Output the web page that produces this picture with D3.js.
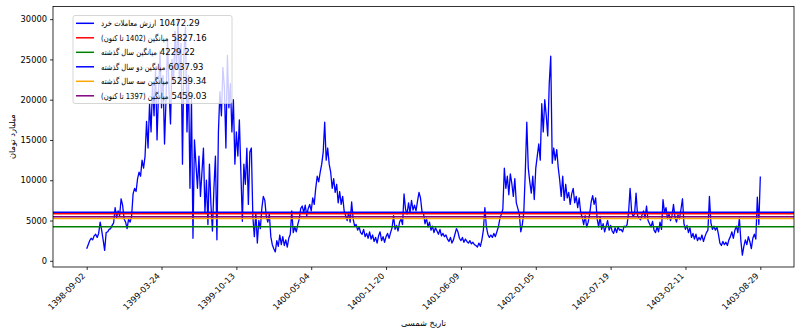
<!DOCTYPE html>
<html><head><meta charset="utf-8">
<script src="https://cdn.jsdelivr.net/npm/d3@7"></script>
<style>body{margin:0;background:#fff}svg{display:block}text{font-family:"DejaVu Sans",sans-serif}</style>
</head><body>
<svg id="c" width="800" height="334"></svg>
<script>
const tickLabels = ["1398-09-02","1399-03-24","1399-10-13","1400-05-04","1400-11-20","1401-06-09","1402-01-05","1402-07-19","1403-02-11","1403-08-29"];
const tickIndex = [0,50,100,150,200,250,300,350,400,450];
const yTicks = [0,5000,10000,15000,20000,25000,30000];
const values = [
1500,2000,2500,2800,2600,3100,3300,2900,3400,4800,
3800,2600,1300,3500,3600,3900,4000,4400,4700,6600,
5400,6200,5600,7700,6900,5200,4800,4000,5200,4800,
5500,8300,9000,8600,10200,11000,10500,12500,11500,13000,
17300,14000,19500,16000,22000,18000,24000,15000,21000,26000,
19000,23000,14500,20000,27500,21000,17000,25000,22000,28500,
24000,30100,22000,27000,12000,26000,29000,16000,23000,9000,
20000,2800,15000,12000,9000,13000,8000,11000,14000,6000,
10000,4500,12000,7000,3700,9000,13000,2600,16000,21000,
18000,24000,21500,14000,25500,19000,22000,16000,20000,12000,
16000,13000,17500,11000,4900,12000,9500,14000,7000,13500,
14000,5500,3000,6000,2200,5000,4000,6500,8000,7500,
5500,4800,5800,3000,2000,1500,1100,2500,1800,3200,
2000,3000,1900,2600,1700,2800,3300,6200,3500,4200,
3600,4500,5200,6500,6800,6000,6900,5600,6500,7000,
6200,7800,7000,9000,10500,9800,11000,12000,13500,17200,
12500,14000,12000,11000,9000,10200,8500,9500,7200,8600,
7000,8000,6200,5600,5000,6000,4800,7300,5200,4300,
4500,3800,4200,3500,3300,3900,3000,3400,2800,3600,
2700,3200,2400,2900,2200,3100,3600,2500,3000,2300,
3000,3400,2800,3500,4100,5600,3900,4400,3700,4800,
5200,4500,8300,6400,5800,7200,6000,7500,6300,6900,
6200,7400,8500,7800,6100,5900,4600,5300,4200,4800,
3800,4300,3500,4100,3700,3300,3900,3100,3400,3000,
3200,2700,2400,2900,2200,2600,3300,4000,3600,2800,
2500,2900,2300,2700,2400,2200,2500,2100,2300,2000,
1900,1700,2200,1800,2600,3800,6600,4200,3300,2900,
3200,2900,3400,3000,3600,4200,5200,5800,6400,11500,
9000,10500,8200,10800,9600,8000,10200,7200,6500,5800,
3600,4500,6000,11000,17200,11500,9800,8400,10500,7600,
11500,13000,14500,12500,19500,16000,20000,18000,15500,22000,
25400,12100,14000,12500,13800,11600,10000,8000,10500,7500,
9500,7800,8500,7000,8300,9000,7200,8000,6600,7800,
6000,5400,4500,5600,4200,4800,5800,7300,8100,7000,
7800,5200,4200,5500,3900,4600,3600,4300,5000,3800,
4400,3700,3400,4100,3500,4200,3800,3900,3600,4300,
4200,4500,6000,9000,6200,5500,5800,8400,5600,5300,
5100,5700,6200,5400,6800,5000,4600,4200,4900,3800,
3500,4200,3600,4800,3900,7600,6000,6600,5200,5800,
5000,5600,7000,5400,4800,5700,5200,6400,7700,4600,
3900,4400,3500,4100,2900,3400,2700,3300,2500,2900,
2600,3200,2400,3000,3500,3800,8000,4700,3900,4300,
3800,4200,3300,2200,1900,2400,2000,2300,1900,2600,
3000,3600,2800,3800,4300,3500,5300,2500,700,1800,
2600,2000,3000,2400,1500,2800,3300,2700,7900,4500,10472.29
];
const seriesName = "ارزش معاملات خرد";
const avgNames = ["میانگین (1402 تا کنون)","میانگین سال گذشته","میانگین دو سال گذشته","میانگین سه سال گذشته","میانگین (1397 تا کنون)"];
const avgValues = [5827.16,4229.22,6037.93,5239.34,5459.03];
const avgColors = ["red","green","blue","orange","purple"];
const seriesColor = "blue";
const xTitle = "تاریخ شمسی";
const yTitle = "میلیارد تومان";

const svg = d3.select("#c");
const L=53, R=794, T=6.5, B=267;
const n = values.length-1;
const x = d3.scaleLinear().domain([-0.05*n, 1.05*n]).range([L,R]);
const ymin=d3.min(values), ymax=d3.max(values), pad=(ymax-ymin)*0.05;
const y = d3.scaleLinear().domain([ymin-pad, ymax+pad]).range([B,T]);
const fs = 8.3;

const g = svg.append("g");
g.append("path").datum(values)
 .attr("fill","none").attr("stroke",seriesColor).attr("stroke-width",1.3).attr("stroke-linejoin","round")
 .attr("d", d3.line().x((d,i)=>x(i)).y(d=>y(d)));
avgValues.forEach((v,k)=>{
  g.append("line").attr("x1",L).attr("x2",R).attr("y1",y(v)).attr("y2",y(v))
   .attr("stroke",avgColors[k]).attr("stroke-width",1.5);
});
const xAxis = d3.axisBottom(x).tickValues(tickIndex).tickFormat((d,i)=>tickLabels[i]).tickSize(3).tickSizeOuter(0);
const xg = svg.append("g").attr("transform",`translate(0,${B})`).call(xAxis);
xg.select(".domain").remove();
xg.selectAll("text").attr("font-size",fs).attr("fill","#000").attr("font-family","DejaVu Sans")
  .attr("text-anchor","end").attr("dy",null).attr("y",null)
  .attr("transform","translate(-1.5,9.5) rotate(-45)");
xg.selectAll("line").attr("stroke","#000").attr("stroke-width",0.8);
const yAxis = d3.axisLeft(y).tickValues(yTicks).tickFormat(d3.format("d")).tickSize(3).tickPadding(3).tickSizeOuter(0);
const yg = svg.append("g").attr("transform",`translate(${L},0)`).call(yAxis);
yg.select(".domain").remove();
yg.selectAll("text").attr("font-size",fs).attr("fill","#000").attr("font-family","DejaVu Sans");
yg.selectAll("line").attr("stroke","#000").attr("stroke-width",0.8);
svg.append("rect").attr("x",L).attr("y",T).attr("width",R-L).attr("height",B-T)
  .attr("fill","none").attr("stroke","#000").attr("stroke-width",0.8);

svg.append("text").attr("x",(L+R)/2).attr("y",326).attr("text-anchor","middle").attr("font-size",fs).attr("direction","rtl").text(xTitle);
svg.append("text").attr("transform",`translate(15,${(T+B)/2}) rotate(-90)`).attr("text-anchor","middle").attr("font-size",fs).attr("direction","rtl").text(yTitle);

// legend
const labels = [seriesName, ...avgNames];
const nums = [values[values.length-1], ...avgValues];
const colors = [seriesColor, ...avgColors];
const lg = svg.append("g");
lg.append("rect").attr("x",73).attr("y",15.5).attr("width",159).attr("height",88).attr("rx",2)
  .attr("fill","#fff").attr("fill-opacity",0.8).attr("stroke","#cccccc").attr("stroke-width",0.8);
const sx = 0.82;
labels.forEach((lab,k)=>{
  const cy = 23.3 + k*14.5;
  lg.append("line").attr("x1",76).attr("x2",94).attr("y1",cy).attr("y2",cy).attr("stroke",colors[k]).attr("stroke-width",1.5);
  const tg = lg.append("g").attr("transform",`translate(101,${cy+3}) scale(${sx},1)`);
  const t = tg.append("text").attr("y",0).attr("font-size",fs).attr("direction","rtl")
    .attr("text-anchor","start").text(lab);
  const W = t.node().getComputedTextLength();
  t.attr("x", W);
  lg.append("text").attr("x", 101 + W*sx + 3).attr("y",cy+3).attr("font-size",8.5).text(nums[k].toFixed(2));
});
</script>
</body></html>
